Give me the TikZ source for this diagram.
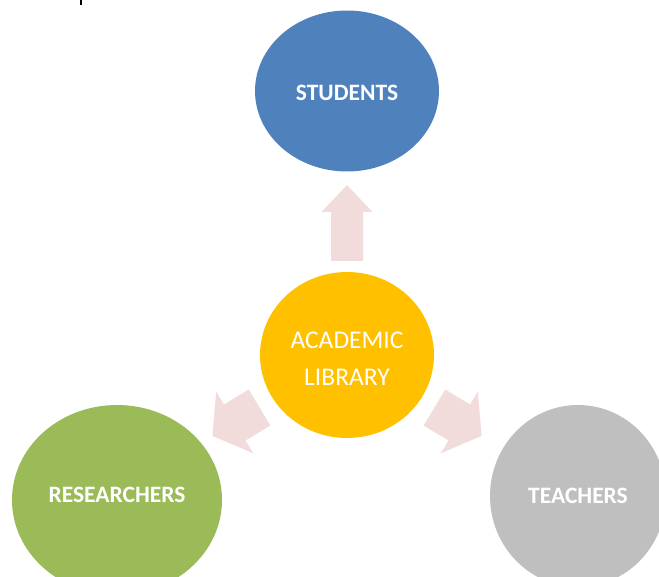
\documentclass[tikz,border=0pt]{standalone}
\usepackage{fontspec}
\setmainfont{Carlito}
\usetikzlibrary{shapes.geometric}
\definecolor{stublue}{HTML}{4F81BD}
\definecolor{libgold}{HTML}{FFC000}
\definecolor{resgreen}{HTML}{9BBB59}
\definecolor{teagray}{HTML}{BFBFBF}
\definecolor{arrowpink}{HTML}{F2DCDB}
\begin{document}
\begin{tikzpicture}[x=1pt,y=-1pt,
  bubble/.style={ellipse, inner sep=0pt, text=white, align=center},
  grouplabel/.style={font=\bfseries\fontsize{23.5}{28}\selectfont, text=white},
  hublabel/.style={font=\fontsize{25.5}{37}\selectfont, text=white, align=center},
  blockarrow/.style={fill=arrowpink}]
\clip (0,0) rectangle (659,577);

% central hub
\node[bubble, fill=libgold, minimum width=174pt, minimum height=166pt,
  label={[hublabel, yshift=-4pt]center:ACADEMIC\\LIBRARY}]
  (lib) at (347,355) {};

% the three user groups
\node[bubble, fill=stublue, minimum width=184pt, minimum height=161pt,
  label={[grouplabel, yshift=-2pt]center:STUDENTS}]
  (stu) at (347,91) {};
\node[bubble, fill=resgreen, minimum width=210pt, minimum height=190pt,
  label={[grouplabel, yshift=5pt]center:RESEARCHERS}]
  (res) at (117,500) {};
\node[bubble, grouplabel, fill=teagray, minimum width=176pt, minimum height=182pt]
  (tea) at (578,496) {TEACHERS};

% block arrows pointing outwards from the hub
\begin{scope}[shift={(lib.center)}, rotate=90]
  \fill[blockarrow] (94,-16) -- (143,-16) -- (143,-25.5) -- (170,0)
    -- (143,25.5) -- (143,16) -- (94,16) -- cycle;
\end{scope}
\begin{scope}[shift={(lib.center)}, rotate=211]
  \fill[blockarrow] (102,-21) -- (131,-21) -- (131,-36) -- (157,0)
    -- (131,36) -- (131,21) -- (102,21) -- cycle;
\end{scope}
\begin{scope}[shift={(lib.center)}, rotate=-31]
  \fill[blockarrow] (102,-21) -- (131,-21) -- (131,-36) -- (157,0)
    -- (131,36) -- (131,21) -- (102,21) -- cycle;
\end{scope}

% descender of a glyph cut at the top edge
\fill[black] (80,0) rectangle (82,5);
\end{tikzpicture}
\end{document}
